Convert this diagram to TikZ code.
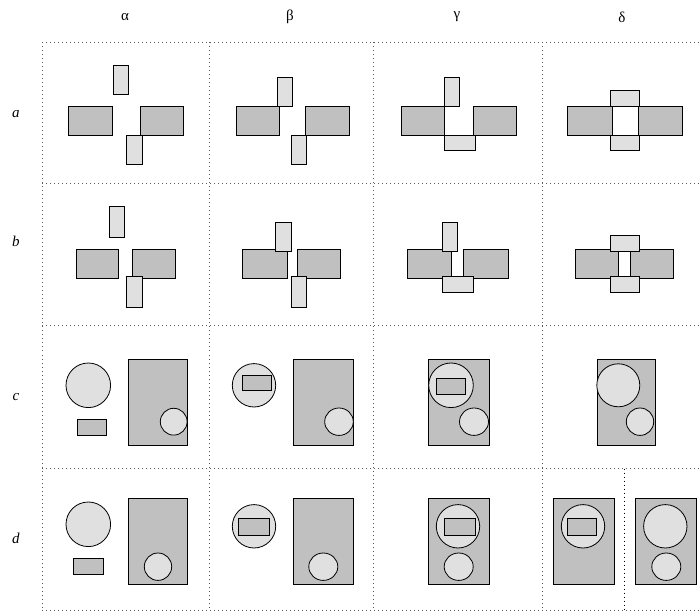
\documentclass[tikz,border=0pt]{standalone}
\usepackage{fontspec}
\setmainfont{Liberation Serif}
\definecolor{dkfill}{RGB}{192,192,192}
\definecolor{ltfill}{RGB}{224,224,224}
\definecolor{gridgray}{RGB}{90,90,90}
\begin{document}
\begin{tikzpicture}[x=1pt,y=-1pt,
  gridline/.style={gridgray, line width=1pt, dash pattern=on 1pt off 3pt},
  dk/.style={draw=black, fill=dkfill, line width=0.8pt},
  lt/.style={draw=black, fill=ltfill, line width=0.8pt},
  collabel/.style={font=\fontsize{15}{17}\selectfont, inner sep=0pt},
  rowlabel/.style={font=\fontsize{15}{17}\selectfont\itshape, inner sep=0pt}]
\useasboundingbox (0,0) rectangle (699,612);
% labels
\node[collabel] (ca) at (125,17) {α};
\node[collabel] (cb) at (290,17) {β};
\node[collabel] (cg) at (457,17) {γ};
\node[collabel] (cd) at (622,17) {δ};
\node[rowlabel] (ra) at (16,114) {a};
\node[rowlabel] (rb) at (16,241) {b};
\node[rowlabel] (rc) at (16,397) {c};
\node[rowlabel] (rd) at (16,538) {d};
% grid
\foreach \yy in {42.5,184,326,468.5,610}
  \draw[gridline] (42,\yy) -- (699,\yy);
\foreach \xx in {42,209,373,542}
  \draw[gridline] (\xx,42.5) -- (\xx,610);
\draw[gridline, black] (624,468.5) -- (624,612);
% ---------- row a ----------
% alpha
\draw[dk] (68.3,106.7) rectangle (112.7,135.3);
\draw[dk] (140.7,106.7) rectangle (183.3,135.3);
\draw[lt] (113.3,65) rectangle (128.3,94);
\draw[lt] (126.7,135.3) rectangle (142.3,164.7);
% beta
\draw[dk] (236.7,106.7) rectangle (279.3,135.3);
\draw[dk] (305,106.7) rectangle (349.7,135.3);
\draw[lt] (277.3,77.3) rectangle (292.7,106.7);
\draw[lt] (291.7,135.3) rectangle (306.7,164.7);
% gamma
\draw[dk] (401,106.7) rectangle (444,135.3);
\draw[dk] (473.3,106.7) rectangle (516,135.3);
\draw[lt] (444,77.3) rectangle (459.3,106.7);
\draw[lt] (444,135.3) rectangle (475,150.7);
% delta
\draw[dk] (567.3,106.7) rectangle (612,135.3);
\draw[dk] (638.7,106.7) rectangle (682.7,135.3);
\draw[lt] (610.7,90.7) rectangle (639.3,106.7);
\draw[lt] (610.7,135.3) rectangle (639.3,150.7);
% ---------- row b ----------
% alpha
\draw[dk] (76,249.3) rectangle (118.7,278.3);
\draw[dk] (132.7,249.3) rectangle (175.3,278.3);
\draw[lt] (109.3,206) rectangle (124.3,237.3);
\draw[lt] (126.7,276.7) rectangle (142.3,307.7);
% beta
\draw[dk] (242.3,249.3) rectangle (287,278.3);
\draw[dk] (297.3,249.3) rectangle (340,278.3);
\draw[lt] (275.7,222) rectangle (291,251);
\draw[lt] (291.3,276.7) rectangle (306.7,307.7);
% gamma
\draw[dk] (407,249.3) rectangle (451.7,278.3);
\draw[dk] (463.7,249.3) rectangle (508.3,278.3);
\draw[lt] (442.3,222) rectangle (457.7,251);
\draw[lt] (442.3,276.7) rectangle (473.3,292.3);
% delta
\draw[dk] (575.3,249.3) rectangle (618.7,278.3);
\draw[dk] (630,249.3) rectangle (673.3,278.3);
\draw[lt] (610.7,235.7) rectangle (639.3,251);
\draw[lt] (610.7,276.7) rectangle (639.3,292.3);
% ---------- row c ----------
% alpha
\draw[lt] (88.3,385.3) circle[radius=22.3];
\draw[dk] (77.7,419.7) rectangle (106.7,435.3);
\draw[dk] (128.3,359.3) rectangle (187.3,445);
\draw[lt] (173.7,421.7) circle[x radius=13.4, y radius=13.4];
% beta
\draw[lt] (254,385.3) circle[radius=21.7];
\draw[dk] (242.3,375) rectangle (271.3,390.3);
\draw[dk] (293.3,359.3) rectangle (353.7,445);
\draw[lt] (339,421.7) circle[x radius=14.3, y radius=13.7];
% gamma
\draw[dk] (428.3,359.3) rectangle (489,445);
\draw[lt] (451,385.3) circle[radius=22.3];
\draw[dk] (436.3,378.7) rectangle (465.7,394);
\draw[lt] (474,421.7) circle[x radius=14.5, y radius=13.7];
% delta
\draw[dk] (597,359.3) rectangle (655.7,445);
\draw[lt] (618.3,385.3) circle[radius=21.5];
\draw[lt] (640,421.7) circle[x radius=13.7, y radius=13.7];
% ---------- row d ----------
% alpha
\draw[lt] (88.3,524.3) circle[radius=22.3];
\draw[dk] (73.7,558.7) rectangle (103,574.3);
\draw[dk] (128.3,498.3) rectangle (187.3,584.3);
\draw[lt] (158,566.7) circle[radius=13.7];
% beta
\draw[lt] (254,526.3) circle[radius=21.7];
\draw[dk] (238.3,518) rectangle (269.3,535.3);
\draw[dk] (293.3,498.3) rectangle (353.7,584.3);
\draw[lt] (323.3,566.7) circle[x radius=14.5, y radius=13.7];
% gamma
\draw[dk] (428.3,498.3) rectangle (489,584.3);
\draw[lt] (458,526.3) circle[radius=21.7];
\draw[dk] (444,518) rectangle (475.3,535.3);
\draw[lt] (458.7,566.7) circle[x radius=14.5, y radius=13.7];
% delta left
\draw[dk] (553.7,498.3) rectangle (614.3,584.3);
\draw[lt] (583,526.3) circle[radius=21.7];
\draw[dk] (567.3,518) rectangle (596.7,535.3);
% delta right
\draw[dk] (635.7,498.3) rectangle (696.7,584.3);
\draw[lt] (665.3,526.3) circle[radius=21.7];
\draw[lt] (666.3,566.7) circle[x radius=14.5, y radius=13.7];
\end{tikzpicture}
\end{document}
